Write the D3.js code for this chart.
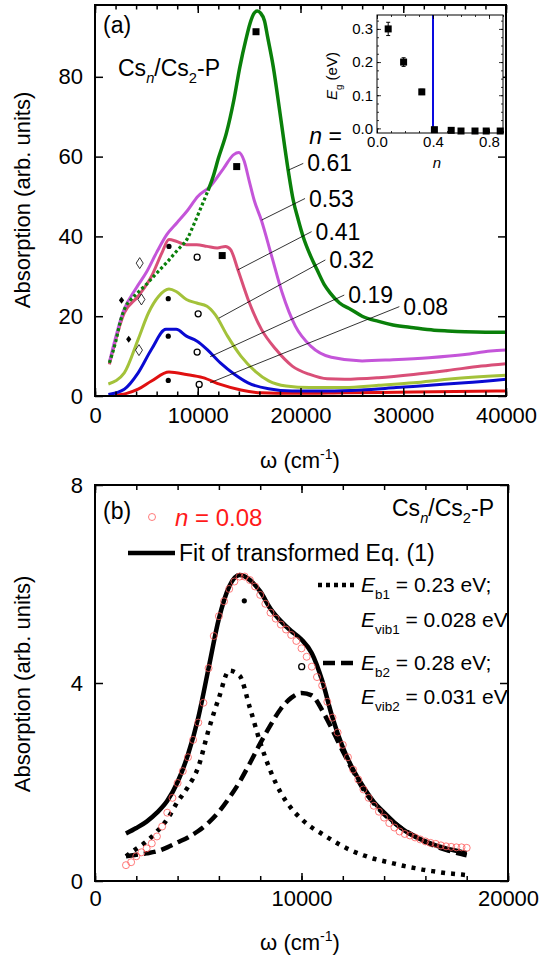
<!DOCTYPE html>
<html>
<head>
<meta charset="utf-8">
<script src="https://cdn.jsdelivr.net/npm/d3@7"></script>
<style>
  body { margin: 0; background: #fff; }
  svg { display: block; }
</style>
</head>
<body>
<script>
// panel (a): absorption spectra for several n
const omegaGreenDot = [1400, 2000, 2500, 3000, 3500, 4000, 5000, 6000, 7000, 8000, 9000, 9700, 10200, 11000];
const absGreenDot   = [8.3, 13.5, 19, 22.5, 24.2, 25.5, 28, 30.8, 33.5, 36.5, 39.5, 43.5, 46.5, 51.5];
const omegaGreen = [11000, 11500, 12000, 12800, 13500, 14100, 14700, 15100, 15500, 15800, 16100, 16500, 16800, 17350, 18000, 18800, 19300, 19800, 20250, 21000, 21600, 22300, 22900, 23800, 24900, 26000, 27600, 29000, 31000, 33000, 34300, 36000, 38000, 40000];
const absGreen   = [51.5, 55, 59.5, 66, 74, 82.5, 89.5, 93.5, 96, 96.5, 96, 94, 90, 82.5, 71, 56.6, 49, 44, 40, 35, 31.7, 28, 25.8, 23.3, 21.7, 20, 18.7, 17.8, 17.1, 16.5, 16.3, 16.1, 16, 16];
const omegaPurple = [1400, 2800, 4000, 5000, 6000, 7000, 8000, 9000, 10000, 11200, 12500, 13500, 14000, 14500, 15000, 15500, 16200, 17200, 18200, 19500, 21000, 23000, 26000, 29000, 32500, 36000, 38500, 40000];
const absPurple   = [8.5, 21.5, 27, 31, 36, 40.5, 43.5, 46.5, 50, 52.5, 57, 60.5, 61, 59, 54, 49, 44, 35, 26, 17.5, 12.5, 9.7, 8.8, 9.1, 9.6, 10.4, 11.3, 11.5];
const omegaPink = [1400, 2850, 4200, 5500, 6500, 7200, 7900, 8900, 9900, 10900, 11900, 12700, 13200, 13900, 14900, 16200, 17600, 19200, 20900, 22600, 24300, 27600, 31000, 34300, 37600, 40000];
const absPink   = [7.9, 20.8, 25, 30, 35.8, 39.2, 38.8, 37.9, 37.9, 37.5, 37.1, 37.5, 36.7, 31.7, 24.2, 16.7, 11.7, 7.5, 5.4, 4.3, 4.2, 4.6, 5.4, 6.4, 7.5, 8.1];
const omegaOlive = [1300, 2850, 4200, 5200, 6200, 7200, 7900, 8900, 9900, 10900, 11700, 12900, 14200, 15600, 16900, 18600, 20900, 24300, 27600, 31000, 34300, 40000];
const absOlive   = [3.0, 5.8, 14.2, 20.8, 25, 26.8, 26.2, 24.2, 23.3, 22.5, 20.4, 15, 10, 6.2, 3.8, 2.5, 2.1, 2.1, 2.7, 3.3, 4.2, 5.2];
const omegaBlue = [1300, 2850, 4200, 5500, 6900, 7900, 8900, 9900, 10900, 12200, 13600, 14900, 16900, 19200, 22600, 25900, 29300, 32600, 36000, 40000];
const absBlue   = [0.4, 1.7, 5.8, 11.7, 16.7, 16.7, 15, 13.8, 11.7, 8.3, 5.4, 3.3, 1.8, 1.25, 1.25, 1.5, 2.1, 2.7, 3.3, 4.2];
const omegaRed = [1900, 3000, 4200, 5500, 7200, 8900, 10500, 12200, 14200, 16200, 19200, 24300, 31000, 40000];
const absRed   = [0.2, 0.6, 1.7, 3.75, 6, 5.4, 4.6, 2.9, 1.5, 0.8, 0.67, 0.8, 1, 1.25];

const nLabels = ["0.61", "0.53", "0.41", "0.32", "0.19", "0.08"];
const leaderFrom = [[18810, 56.6], [16220, 44.1], [13890, 31.6], [12050, 19.5], [11210, 9.85], [11210, 3.33]];
const leaderTo   = [[20270, 58.3], [20440, 49.5], [21080, 41.2], [22420, 34.1], [24260, 25.3], [29620, 22.4]];

const dotPts     = [[7200, 37.5], [7130, 24.4], [7130, 15], [7130, 3.9]];
const ringPts    = [[9940, 34.8], [10040, 20.6], [9940, 11], [10140, 2.9]];
const squarePts  = [[15670, 91.3], [13790, 57.5], [12380, 35.2]];
const openDiaPts = [[4350, 33.3], [4520, 24.2], [4280, 11.5]];
const fillDiaPts = [[2580, 24], [3280, 14.2]];

// inset: gap vs n
const insetN  = [0.08, 0.19, 0.32, 0.41, 0.53, 0.60, 0.70, 0.78, 0.88];
const insetEg = [0.30, 0.20, 0.11, -0.004, -0.006, -0.008, -0.008, -0.008, -0.008];
const insetErr = [0.02, 0.013, 0.008, 0, 0, 0, 0, 0, 0];
const insetLineN = 0.40;

// panel (b): n = 0.08 and its fit
const omegaData = [1500, 1750, 2000, 2250, 2500, 2750, 3000, 3250, 3500, 3750, 4000, 4250, 4500, 4750, 5000, 5250, 5500, 5750, 6000, 6250, 6500, 6750, 7000, 7250, 7500, 7750, 8000, 8250, 8500, 8750, 9000, 9250, 9500, 9750, 10000, 10250, 10500, 10750, 11000, 11250, 11500, 11750, 12000, 12250, 12500, 12750, 13000, 13250, 13500, 13750, 14000, 14250, 14500, 14750, 15000, 15250, 15500, 15750, 16000, 16250, 16500, 16750, 17000, 17250, 17500, 17750, 18000];
const absData   = [0.32, 0.38, 0.5, 0.58, 0.66, 0.76, 0.9, 1.1, 1.38, 1.68, 1.98, 2.22, 2.5, 2.85, 3.2, 3.6, 4.3, 4.95, 5.35, 5.65, 5.9, 6.05, 6.15, 6.15, 6.08, 5.95, 5.78, 5.6, 5.42, 5.3, 5.18, 5.08, 4.97, 4.85, 4.7, 4.53, 4.33, 4.12, 3.95, 3.62, 3.3, 3.0, 2.75, 2.5, 2.25, 2.05, 1.85, 1.68, 1.52, 1.4, 1.28, 1.17, 1.08, 1.0, 0.95, 0.92, 0.88, 0.84, 0.8, 0.77, 0.75, 0.72, 0.7, 0.69, 0.68, 0.68, 0.67];
const omegaFit = [1500, 2000, 2500, 3000, 3500, 4000, 4500, 5000, 5500, 6000, 6500, 7000, 7500, 8000, 8500, 9000, 9500, 10000, 10500, 11000, 11500, 12000, 12500, 13000, 13500, 14000, 14500, 15000, 15500, 16000, 16500, 17000, 17500, 18000];
const absFit    = [0.96, 1.07, 1.2, 1.38, 1.62, 2.0, 2.55, 3.3, 4.3, 5.3, 5.95, 6.18, 6.08, 5.85, 5.5, 5.25, 5.05, 4.88, 4.6, 4.05, 3.3, 2.7, 2.25, 1.9, 1.6, 1.38, 1.18, 1.02, 0.9, 0.8, 0.72, 0.66, 0.61, 0.56];
const absFit1   = [0.5, 0.65, 0.8, 1.0, 1.25, 1.6, 1.9, 2.3, 3.05, 3.7, 4.25, 4.15, 3.5, 2.8, 2.22, 1.78, 1.47, 1.25, 1.08, 0.95, 0.82, 0.7, 0.6, 0.52, 0.45, 0.4, 0.35, 0.3, 0.26, 0.22, 0.19, 0.16, 0.14, 0.12];
const absFit2   = [0.5, 0.53, 0.56, 0.6, 0.68, 0.78, 0.88, 1.01, 1.18, 1.4, 1.68, 2.0, 2.38, 2.78, 3.15, 3.48, 3.7, 3.8, 3.75, 3.45, 3.05, 2.62, 2.22, 1.85, 1.57, 1.35, 1.17, 1.02, 0.9, 0.79, 0.7, 0.63, 0.57, 0.52];
const dotB  = [[7230, 5.66]];
const ringB = [[10010, 4.33]];

const font = "'Liberation Sans', Arial, sans-serif";
const W = 540, H = 960;
const svg = d3.select("body").append("svg").attr("width", W).attr("height", H)
  .attr("font-family", font);
svg.append("rect").attr("width", W).attr("height", H).attr("fill", "#fff");

// text with italic / sub / sup pieces
function rich(sel, x, y, parts, size, anchor, fill) {
  const t = sel.append("text").attr("x", x).attr("y", y).attr("font-size", size)
    .attr("text-anchor", anchor || "start").attr("fill", fill || "#000");
  let shift = 0;
  parts.forEach(p => {
    const s = p[0], k = p[1] || "";
    const target = k.includes("sub") ? size * 0.32 : k.includes("sup") ? -size * 0.42 : 0;
    const ts = t.append("tspan").attr("dy", target - shift).text(s);
    shift = target;
    if (target !== 0) ts.attr("font-size", size * 0.64);
    if (k.includes("i")) ts.attr("font-style", "italic");
  });
  return t;
}

function pairs(xs, ys) { return xs.map((x, i) => [x, ys[i]]); }

function frameAxes(g, x, y, o) {
  const [x0, x1] = x.range(), [y0, y1] = y.range();
  const mk = (axis, tr, vals, size, fmt) => {
    const a = g.append("g").attr("transform", tr)
      .call(axis.tickValues(vals).tickSize(size).tickPadding(o.pad).tickFormat(fmt || ""));
    a.select(".domain").remove();
    a.selectAll("line").attr("stroke-width", o.tw);
    a.selectAll("text").attr("font-size", o.fs).attr("font-family", font).attr("fill", "#000");
    return a;
  };
  mk(d3.axisBottom(x), `translate(0,${y0})`, o.xMinor, -o.minor);
  mk(d3.axisBottom(x), `translate(0,${y0})`, o.xMajor, -o.major, o.xFmt).selectAll("text").attr("dy", "0.71em").attr("y", o.xPad);
  mk(d3.axisTop(x), `translate(0,${y1})`, o.xMinor, -o.minor);
  mk(d3.axisTop(x), `translate(0,${y1})`, o.xMajor, -o.major);
  if (o.yMinor) {
    mk(d3.axisLeft(y), `translate(${x0},0)`, o.yMinor, -o.minor);
    mk(d3.axisRight(y), `translate(${x1},0)`, o.yMinor, -o.minor);
  }
  mk(d3.axisLeft(y), `translate(${x0},0)`, o.yMajor, -o.major, o.yFmt).selectAll("text").attr("x", -o.yPad);
  mk(d3.axisRight(y), `translate(${x1},0)`, o.yMajor, -o.major);
  g.append("rect").attr("x", x0).attr("y", y1).attr("width", x1 - x0).attr("height", y0 - y1)
    .attr("fill", "none").attr("stroke", "#000").attr("stroke-width", o.fw);
}

// ---------------- panel (a)
const xA = d3.scaleLinear().domain([0, 40000]).range([95, 506]);
const yA = d3.scaleLinear().domain([0, 98]).range([396, 5]);
const gA = svg.append("g");
const lineA = d3.line().x(d => xA(d[0])).y(d => yA(d[1])).curve(d3.curveMonotoneX);

const curvesA = [
  {d: pairs(omegaRed, absRed), c: "#e01010", w: 3},
  {d: pairs(omegaBlue, absBlue), c: "#0a0ad2", w: 3},
  {d: pairs(omegaOlive, absOlive), c: "#a3c23a", w: 3},
  {d: pairs(omegaPink, absPink), c: "#d94f78", w: 3},
  {d: pairs(omegaPurple, absPurple), c: "#c455d9", w: 3},
  {d: pairs(omegaGreen, absGreen), c: "#0a800a", w: 3.5},
];
curvesA.forEach(s => gA.append("path").attr("d", lineA(s.d)).attr("fill", "none")
  .attr("stroke", s.c).attr("stroke-width", s.w));
gA.append("path").attr("d", lineA(pairs(omegaGreenDot, absGreenDot))).attr("fill", "none")
  .attr("stroke", "#0a800a").attr("stroke-width", 3.2).attr("stroke-dasharray", "3,2.5");

// markers
gA.selectAll(".dot").data(dotPts).join("circle").attr("cx", d => xA(d[0])).attr("cy", d => yA(d[1]))
  .attr("r", 2.6).attr("fill", "#000");
gA.selectAll(".ring").data(ringPts).join("circle").attr("cx", d => xA(d[0])).attr("cy", d => yA(d[1]))
  .attr("r", 3).attr("fill", "none").attr("stroke", "#000").attr("stroke-width", 1.3);
gA.selectAll(".sq").data(squarePts).join("rect").attr("x", d => xA(d[0]) - 3.5).attr("y", d => yA(d[1]) - 3.5)
  .attr("width", 7).attr("height", 7).attr("fill", "#000");
const dia = (w, h) => `M0,${-h}L${w},0L0,${h}L${-w},0Z`;
gA.selectAll(".odia").data(openDiaPts).join("path").attr("d", dia(3.5, 5.5))
  .attr("transform", d => `translate(${xA(d[0])},${yA(d[1])})`).attr("fill", "#fff").attr("stroke", "#000").attr("stroke-width", 0.8);
gA.selectAll(".fdia").data(fillDiaPts).join("path").attr("d", dia(2.6, 3.5))
  .attr("transform", d => `translate(${xA(d[0])},${yA(d[1])})`).attr("fill", "#000");

// n labels with leader lines
nLabels.forEach((s, i) => {
  const a = leaderFrom[i], b = leaderTo[i];
  gA.append("line").attr("x1", xA(a[0])).attr("y1", yA(a[1])).attr("x2", xA(b[0])).attr("y2", yA(b[1]))
    .attr("stroke", "#000").attr("stroke-width", 0.8);
  gA.append("text").attr("x", xA(b[0]) + 4).attr("y", yA(b[1]) + 8).attr("font-size", 23).text(s);
});
rich(gA, xA(leaderTo[0][0]) + 6, yA(leaderTo[0][1]) - 19, [["n", "i"], [" ="]], 23);

frameAxes(gA, xA, yA, {
  xMajor: d3.range(0, 40001, 10000), xMinor: d3.range(0, 40001, 2000),
  yMajor: d3.range(0, 81, 20), major: 8, minor: 4.5, tw: 1.5, fw: 2, fs: 22,
  pad: 0, xPad: 11, yPad: 12, xFmt: d3.format("d"), yFmt: d3.format("d")
});
gA.append("text").attr("x", 103).attr("y", 33).attr("font-size", 23).text("(a)");
rich(gA, 118, 76, [["Cs"], ["n", "isub"], ["/Cs"], ["2", "sub"], ["-P"]], 23);
gA.append("text").attr("transform", "translate(30,200) rotate(-90)").attr("text-anchor", "middle")
  .attr("font-size", 22).text("Absorption (arb. units)");
rich(gA, 300, 468, [["ω (cm"], ["-1", "sup"], [")"]], 22, "middle");

// inset
const xI = d3.scaleLinear().domain([0, 0.9]).range([377, 503]);
const yI = d3.scaleLinear().domain([-0.014, 0.342]).range([133, 15]);
const gI = svg.append("g");
gI.append("rect").attr("x", 377).attr("y", 15).attr("width", 126).attr("height", 118).attr("fill", "#fff");
gI.append("line").attr("x1", xI(insetLineN)).attr("x2", xI(insetLineN)).attr("y1", yI.range()[0]).attr("y2", yI.range()[1])
  .attr("stroke", "#0a0ae0").attr("stroke-width", 2);
const insetPts = insetN.map((n, i) => ({n, e: insetEg[i], err: insetErr[i]}));
gI.selectAll(".err").data(insetPts.filter(d => d.err > 0)).join("path")
  .attr("d", d => {
    const x = xI(d.n), ya = yI(d.e + d.err), yb = yI(d.e - d.err);
    return `M${x},${ya}V${yb}M${x - 2},${ya}H${x + 2}M${x - 2},${yb}H${x + 2}`;
  }).attr("stroke", "#000").attr("stroke-width", 1).attr("fill", "none");
gI.selectAll(".isq").data(insetPts).join("rect").attr("x", d => xI(d.n) - 3.5).attr("y", d => yI(d.e) - 3.5)
  .attr("width", 7).attr("height", 7).attr("fill", "#000");
frameAxes(gI, xI, yI, {
  xMajor: [0, 0.4, 0.8], xMinor: d3.range(0, 0.91, 0.1),
  yMajor: [0, 0.1, 0.2, 0.3], yMinor: d3.range(0, 0.341, 0.025),
  major: 4, minor: 2, tw: 0.8, fw: 1, fs: 15, pad: 0, xPad: 3, yPad: 4,
  xFmt: d3.format(".1f"), yFmt: d3.format(".1f")
});
rich(gI, 437, 168, [["n", "i"]], 15, "middle");
rich(gI.append("g").attr("transform", "translate(337,76) rotate(-90)"), 0, 0,
  [["E", "i"], ["g", "sub"], [" (eV)"]], 15, "middle");

// ---------------- panel (b)
const xB = d3.scaleLinear().domain([0, 20000]).range([95, 508]);
const yB = d3.scaleLinear().domain([0, 8]).range([881, 485]);
const gB = svg.append("g");
const lineB = d3.line().x(d => xB(d[0])).y(d => yB(d[1])).curve(d3.curveMonotoneX);

gB.append("path").attr("d", lineB(pairs(omegaFit, absFit1))).attr("fill", "none")
  .attr("stroke", "#000").attr("stroke-width", 4.5).attr("stroke-dasharray", "4,6");
gB.append("path").attr("d", lineB(pairs(omegaFit, absFit2))).attr("fill", "none")
  .attr("stroke", "#000").attr("stroke-width", 4.5).attr("stroke-dasharray", "12,6");
gB.append("path").attr("d", lineB(pairs(omegaFit, absFit))).attr("fill", "none")
  .attr("stroke", "#000").attr("stroke-width", 4.5);
gB.selectAll(".data").data(pairs(omegaData, absData)).join("circle")
  .attr("cx", d => xB(d[0])).attr("cy", d => yB(d[1])).attr("r", 3.5)
  .attr("fill", "none").attr("stroke", "#ff5a5a").attr("stroke-width", 0.8);
gB.selectAll(".dotb").data(dotB).join("circle").attr("cx", d => xB(d[0])).attr("cy", d => yB(d[1]))
  .attr("r", 2.6).attr("fill", "#000");
gB.selectAll(".ringb").data(ringB).join("circle").attr("cx", d => xB(d[0])).attr("cy", d => yB(d[1]))
  .attr("r", 3).attr("fill", "none").attr("stroke", "#000").attr("stroke-width", 1.3);

frameAxes(gB, xB, yB, {
  xMajor: [0, 10000, 20000], xMinor: d3.range(0, 20001, 2000),
  yMajor: [0, 4, 8], major: 8, minor: 5, tw: 1.5, fw: 2, fs: 22,
  pad: 0, xPad: 9, yPad: 12, xFmt: d3.format("d"), yFmt: d3.format("d")
});

// legend and labels
gB.append("text").attr("x", 103).attr("y", 519).attr("font-size", 23).text("(b)");
gB.append("circle").attr("cx", 152).attr("cy", 517).attr("r", 3.5).attr("fill", "none")
  .attr("stroke", "#ff5a5a").attr("stroke-width", 0.8);
rich(gB, 175, 526, [["n", "i"], [" = 0.08"]], 24, "start", "#ff1a1a");
gB.append("line").attr("x1", 128).attr("x2", 175).attr("y1", 553).attr("y2", 553)
  .attr("stroke", "#000").attr("stroke-width", 4.5);
gB.append("text").attr("x", 179).attr("y", 561).attr("font-size", 23).text("Fit of transformed Eq. (1)");
rich(gB, 494, 516, [["Cs"], ["n", "isub"], ["/Cs"], ["2", "sub"], ["-P"]], 23, "end");
gB.append("line").attr("x1", 318).attr("x2", 357).attr("y1", 585).attr("y2", 585)
  .attr("stroke", "#000").attr("stroke-width", 4.5).attr("stroke-dasharray", "4,4");
rich(gB, 361, 592, [["E", "i"], ["b1", "sub"], [" = 0.23 eV;"]], 21);
rich(gB, 361, 627, [["E", "i"], ["vib1", "sub"], [" = 0.028 eV"]], 21);
gB.append("line").attr("x1", 323).attr("x2", 357).attr("y1", 663).attr("y2", 663)
  .attr("stroke", "#000").attr("stroke-width", 4.5).attr("stroke-dasharray", "12,6");
rich(gB, 361, 670, [["E", "i"], ["b2", "sub"], [" = 0.28 eV;"]], 21);
rich(gB, 361, 704, [["E", "i"], ["vib2", "sub"], [" = 0.031 eV"]], 21);

gB.append("text").attr("transform", "translate(30,684) rotate(-90)").attr("text-anchor", "middle")
  .attr("font-size", 22).text("Absorption (arb. units)");
rich(gB, 300, 950, [["ω (cm"], ["-1", "sup"], [")"]], 22, "middle");
</script>
</body>
</html>
